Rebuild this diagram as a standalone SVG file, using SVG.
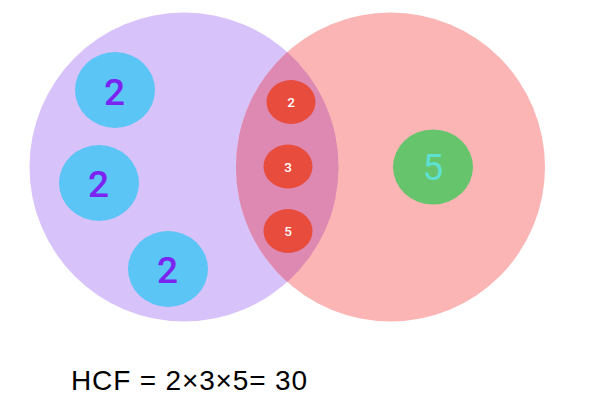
<svg xmlns="http://www.w3.org/2000/svg" width="594" height="402" viewBox="0 0 594 402">
<style>
.big{font-family:Roboto,"Liberation Sans",Arial,sans-serif;font-weight:500;font-size:37px;text-anchor:middle}
.blue{fill:#5bc5f5}
.p{fill:#7b24f2}
.red{fill:#e84c3d}
.sm{font-family:Roboto,"Liberation Sans",Arial,sans-serif;font-weight:500;font-size:13.5px;fill:#ffffff;text-anchor:middle}
</style>
<rect width="594" height="402" fill="#ffffff"/>
<g id="setA"><circle cx="184" cy="167" r="154.5" fill="#d7c2fa"/></g>
<g id="setB"><circle cx="390.5" cy="167" r="154.5" fill="#fbb5b5"/></g>
<g id="intersection"><path d="M287.25,52 A154.5,154.5 0 0,1 287.25,282 A154.5,154.5 0 0,1 287.25,52 Z" fill="#dd89b2"/></g>
<g id="a1"><ellipse cx="115" cy="90" rx="40" ry="38" class="blue"/><text x="114.5" y="104.5" class="big p">2</text></g>
<g id="a2"><ellipse cx="99" cy="183" rx="40" ry="38" class="blue"/><text x="98.5" y="197" class="big p">2</text></g>
<g id="a3"><ellipse cx="168" cy="269" rx="40" ry="38" class="blue"/><text x="167.5" y="282.5" class="big p">2</text></g>
<g id="c1"><ellipse cx="291" cy="102" rx="24.5" ry="22" class="red"/><text x="291" y="107" class="sm">2</text></g>
<g id="c2"><ellipse cx="288" cy="166.5" rx="24.5" ry="22" class="red"/><text x="288" y="171.5" class="sm">3</text></g>
<g id="c3"><ellipse cx="288" cy="231" rx="24.5" ry="22" class="red"/><text x="288" y="235.5" class="sm">5</text></g>
<g id="b1"><ellipse cx="433" cy="167" rx="40" ry="37.5" fill="#66c46c"/><text x="433" y="180" class="big" style="fill:#5ee0d2;font-weight:400">5</text></g>
<g id="formula"><text x="71" y="390" font-family="'Liberation Sans',Arial,sans-serif" font-size="28" fill="#000000" textLength="236" lengthAdjust="spacing">HCF = 2×3×5= 30</text></g>
</svg>
